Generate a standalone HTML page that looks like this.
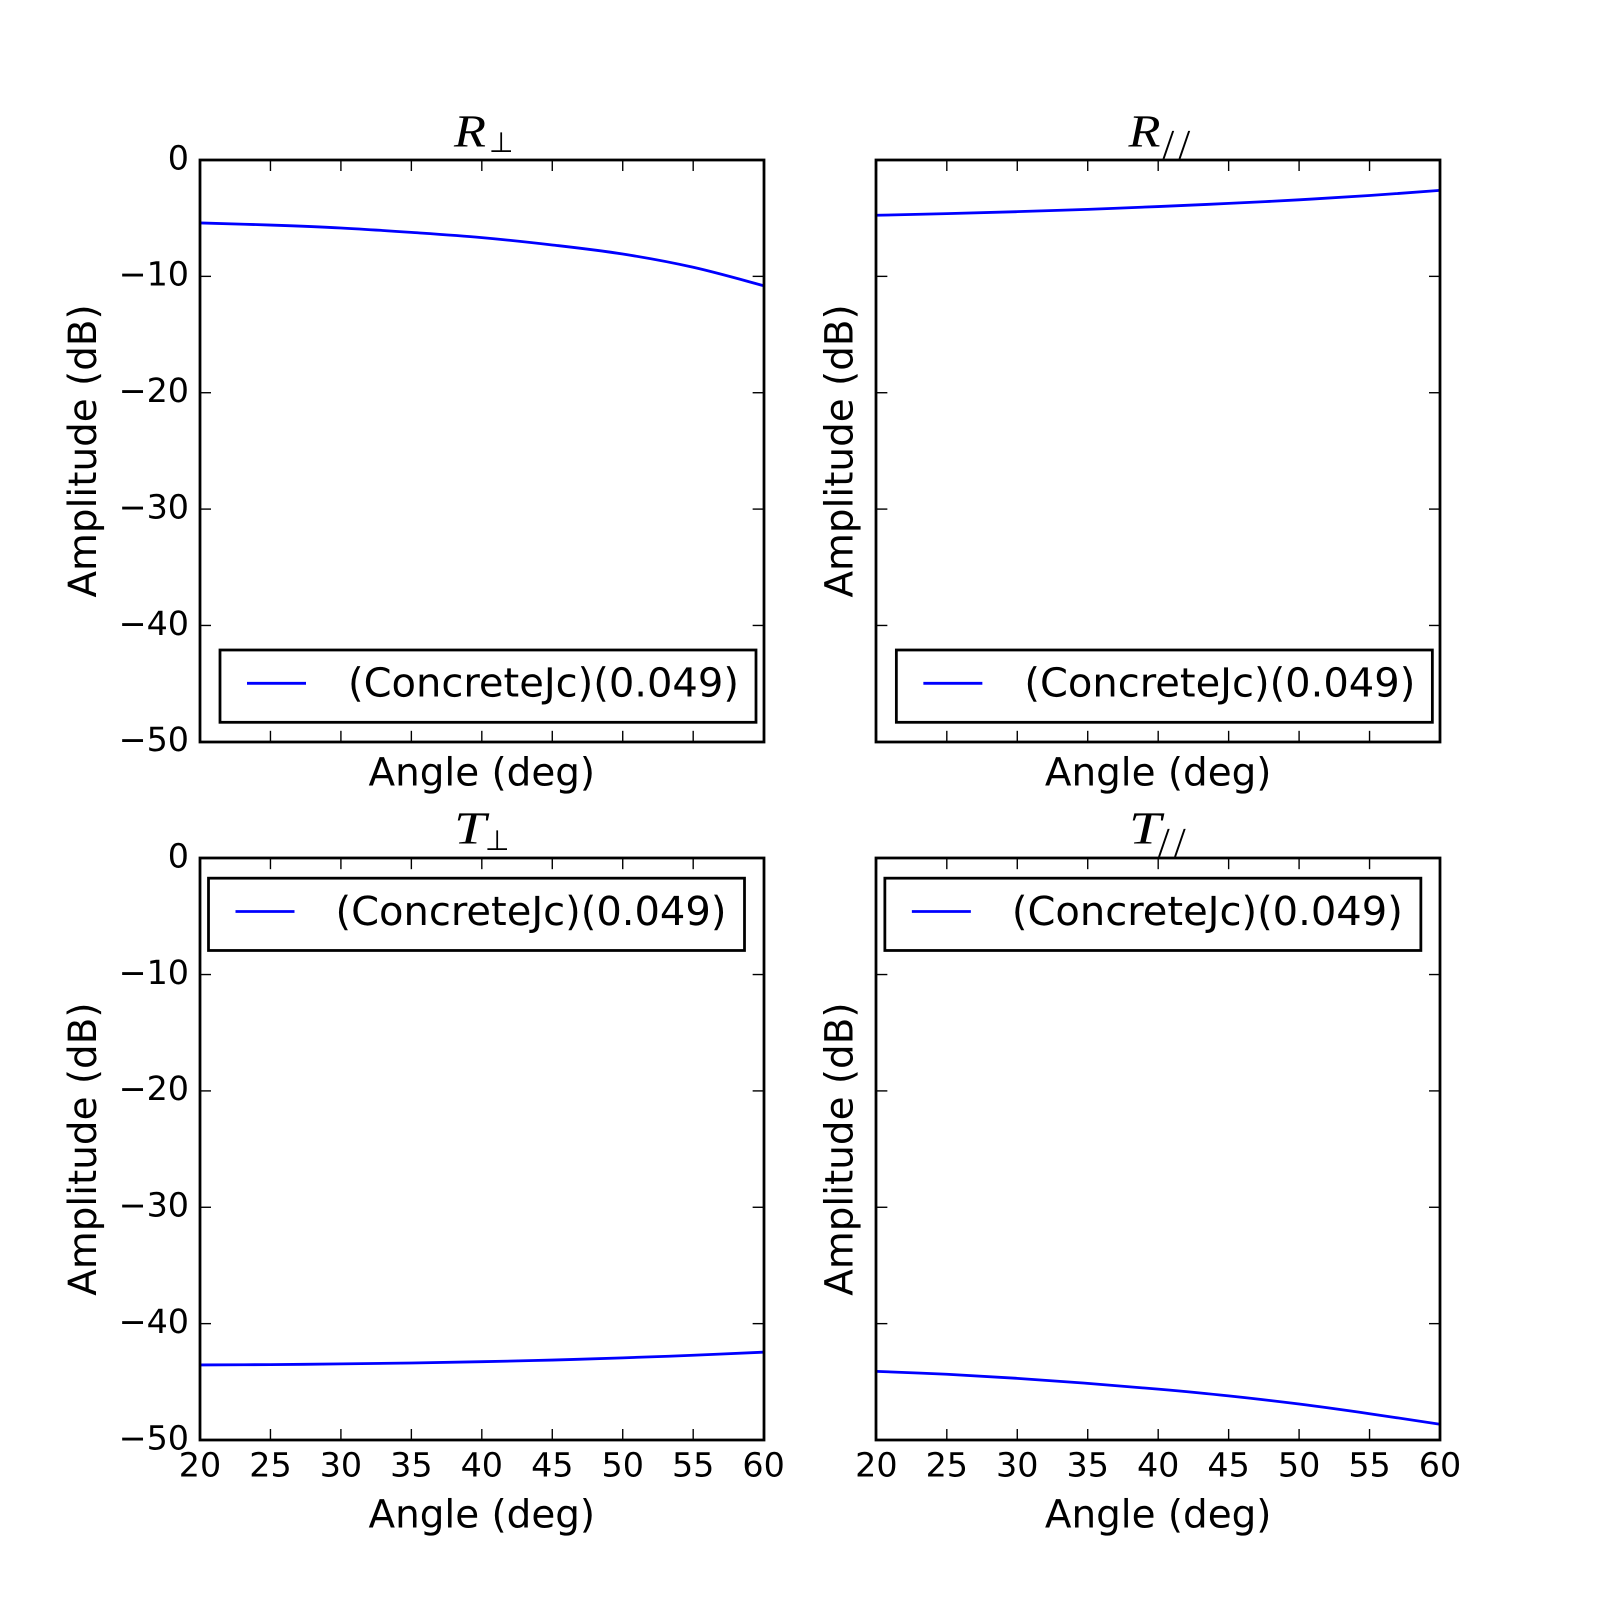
<!DOCTYPE html>
<html lang="en">
<head>
<meta charset="utf-8">
<title>Amplitude vs Angle</title>
<style>
html,body{margin:0;padding:0;background:#fff;width:1600px;height:1600px;overflow:hidden}
svg{display:block}
text{font-family:"DejaVu Sans","Liberation Sans",sans-serif;fill:#000;text-rendering:geometricPrecision}
</style>
</head>
<body>
<svg id="figure" xmlns="http://www.w3.org/2000/svg" width="1600" height="1600" viewBox="0 0 1600 1600"></svg>
<script>
const angles = [20, 25, 30, 35, 40, 45, 50, 55, 60];
const rPerpValues = [-5.41, -5.59, -5.84, -6.22, -6.67, -7.30, -8.08, -9.22, -10.80];
const rParValues = [-4.75, -4.61, -4.44, -4.24, -4.00, -3.73, -3.42, -3.05, -2.61];
const tPerpValues = [-43.55, -43.52, -43.46, -43.38, -43.27, -43.13, -42.94, -42.72, -42.45];
const tParValues = [-44.10, -44.35, -44.70, -45.13, -45.63, -46.21, -46.91, -47.74, -48.65];
const xTicks = [20, 25, 30, 35, 40, 45, 50, 55, 60];
const yTicks = [0, -10, -20, -30, -40, -50];
const legendLabel = "(ConcreteJc)(0.049)";
const xAxisTitle = "Angle (deg)";
const yAxisTitle = "Amplitude (dB)";

const NS = "http://www.w3.org/2000/svg";
const fig = document.getElementById("figure");
const X_MIN = 20, X_MAX = 60, Y_MIN = -50, Y_MAX = 0;

function mk(tag, parent, attrs, txt) {
  const el = document.createElementNS(NS, tag);
  for (const k in attrs) el.setAttribute(k, attrs[k]);
  if (txt !== undefined) el.textContent = txt;
  parent.appendChild(el);
  return el;
}
function xScale(p, v) { return p.left + (v - X_MIN) / (X_MAX - X_MIN) * (p.right - p.left); }
function yScale(p, v) { return p.top + (Y_MAX - v) / (Y_MAX - Y_MIN) * (p.bottom - p.top); }

function smoothPath(pts) {
  let d = "M" + pts[0][0].toFixed(2) + " " + pts[0][1].toFixed(2);
  for (let i = 0; i < pts.length - 1; i++) {
    const p0 = pts[Math.max(i - 1, 0)], p1 = pts[i], p2 = pts[i + 1], p3 = pts[Math.min(i + 2, pts.length - 1)];
    const c1x = p1[0] + (p2[0] - p0[0]) / 6, c1y = p1[1] + (p2[1] - p0[1]) / 6;
    const c2x = p2[0] - (p3[0] - p1[0]) / 6, c2y = p2[1] - (p3[1] - p1[1]) / 6;
    d += "C" + c1x.toFixed(2) + " " + c1y.toFixed(2) + " " + c2x.toFixed(2) + " " + c2y.toFixed(2) + " " + p2[0].toFixed(2) + " " + p2[1].toFixed(2);
  }
  return d;
}

function drawPanel(p) {
  const g = mk("g", fig, {});
  
  

  const clip = mk("clipPath", g, { id: "clip-" + p.key });
  mk("rect", clip, { x: p.left, y: p.top, width: p.right - p.left, height: p.bottom - p.top });

  const line = mk("path", g, {
    d: smoothPath(p.values.map((v, i) => [xScale(p, angles[i]), yScale(p, v)])),
    fill: "none", stroke: "#0000ff", "stroke-width": 2.78, "stroke-linejoin": "round",
    "clip-path": "url(#clip-" + p.key + ")"
  });
  
  

  xTicks.forEach(t => {
    const x = xScale(p, t);
    const a = mk("line", g, { x1: x, x2: x, y1: p.bottom, y2: p.bottom - 11, stroke: "#000", "stroke-width": 1.39 });
    
    
    const b = mk("line", g, { x1: x, x2: x, y1: p.top, y2: p.top + 11, stroke: "#000", "stroke-width": 1.39 });
    
    
    if (p.showX) {
      const l = mk("text", g, { x: x, y: p.bottom + 36.5, "text-anchor": "middle", "font-size": 33.33 }, String(t));
      
      
    }
  });

  yTicks.forEach(t => {
    const y = yScale(p, t);
    const a = mk("line", g, { x1: p.left, x2: p.left + 11, y1: y, y2: y, stroke: "#000", "stroke-width": 1.39 });
    
    
    const b = mk("line", g, { x1: p.right, x2: p.right - 11, y1: y, y2: y, stroke: "#000", "stroke-width": 1.39 });
    
    
    if (p.showY) {
      const s = t < 0 ? "\u2212" + Math.abs(t) : String(t);
      const l = mk("text", g, { x: p.left - 11, y: y + 9.3, "text-anchor": "end", "font-size": 33.33 }, s);
      
      
    }
  });

  const fx = Math.round(p.left), fy = Math.round(p.top), fr = Math.round(p.right), fb = Math.round(p.bottom);
  const frame = mk("rect", g, { x: fx, y: fy, width: fr - fx, height: fb - fy, fill: "none", stroke: "#000", "stroke-width": 2.78 });
  
  

  const lg = mk("g", g, {});
  
  
  const lx = p.left + p.legendDx, ly = p.top + p.legendDy;
  const box = mk("rect", lg, { x: lx, y: ly, width: 536, height: 72.3, fill: "#fff", stroke: "#000", "stroke-width": 2.78 });
  
  
  const sw = mk("line", lg, { x1: lx + 27, x2: lx + 86, y1: ly + 33.3, y2: ly + 33.3, stroke: "#0000ff", "stroke-width": 2.78 });
  
  
  const lt = mk("text", lg, { x: lx + p.legendTextDx, y: ly + 46.7, "font-size": 40 }, legendLabel);
  
  

  const xt = mk("text", g, { x: (p.left + p.right) / 2, y: p.bottom + (p.showX ? 87.5 : 43.7), "text-anchor": "middle", "font-size": 38.89 }, xAxisTitle);
  
  

  const cy = (p.top + p.bottom) / 2;
  const bx = p.yLabelX;
  const yt = mk("text", g, { x: bx, y: cy, "text-anchor": "middle", "font-size": 38.89, transform: "rotate(-90 " + bx + " " + cy + ")" }, yAxisTitle);
  
  

  const tl = mk("text", g, {
    x: p.titleX, y: p.top - p.titleLift,
    "font-size": 46, "font-style": "italic",
    textLength: p.titleWidth, lengthAdjust: "spacingAndGlyphs",
    style: 'font-family:"Liberation Serif",serif'
  }, p.titleLetter);
  
  

  if (p.perp) {
    const sub = mk("text", g, { x: p.titleX + p.subDx, y: p.top - 8, "font-size": 28 }, "\u22A5");
    
    
  } else {
    const sub = mk("text", g, {
      x: p.titleX + p.subDx, y: p.top - 1.5, "font-size": 42, "letter-spacing": 4.3,
      style: 'font-family:"Liberation Serif",serif'
    }, "//");
    
    
  }
}

const PW = 563.64, PH = 581.82;
const L1 = 200, L2 = 876.36, T1 = 160, T2 = 858.18;

drawPanel({ key: "r-perp", values: rPerpValues, left: L1, right: L1 + PW, top: T1, bottom: T1 + PH, showX: false, showY: true,
  legendDx: 20, legendDy: 490, legendTextDx: 128, yLabelX: 96, titleLetter: "R", titleX: 454, titleWidth: 32, titleLift: 13.5, subDx: 35, perp: true });
drawPanel({ key: "r-par", values: rParValues, left: L2, right: L2 + PW, top: T1, bottom: T1 + PH, showX: false, showY: false,
  legendDx: 20, legendDy: 490, legendTextDx: 128, yLabelX: 852.7, titleLetter: "R", titleX: 1128.5, titleWidth: 32, titleLift: 13.5, subDx: 34, perp: false });
drawPanel({ key: "t-perp", values: tPerpValues, left: L1, right: L1 + PW, top: T2, bottom: T2 + PH, showX: true, showY: true,
  legendDx: 8.5, legendDy: 20, legendTextDx: 127, yLabelX: 96, titleLetter: "T", titleX: 454, titleWidth: 32, titleLift: 14.5, subDx: 31, perp: true });
drawPanel({ key: "t-par", values: tParValues, left: L2, right: L2 + PW, top: T2, bottom: T2 + PH, showX: true, showY: false,
  legendDx: 8.5, legendDy: 20, legendTextDx: 127, yLabelX: 852.7, titleLetter: "T", titleX: 1129, titleWidth: 32, titleLift: 14.5, subDx: 29, perp: false });
</script>
</body>
</html>
